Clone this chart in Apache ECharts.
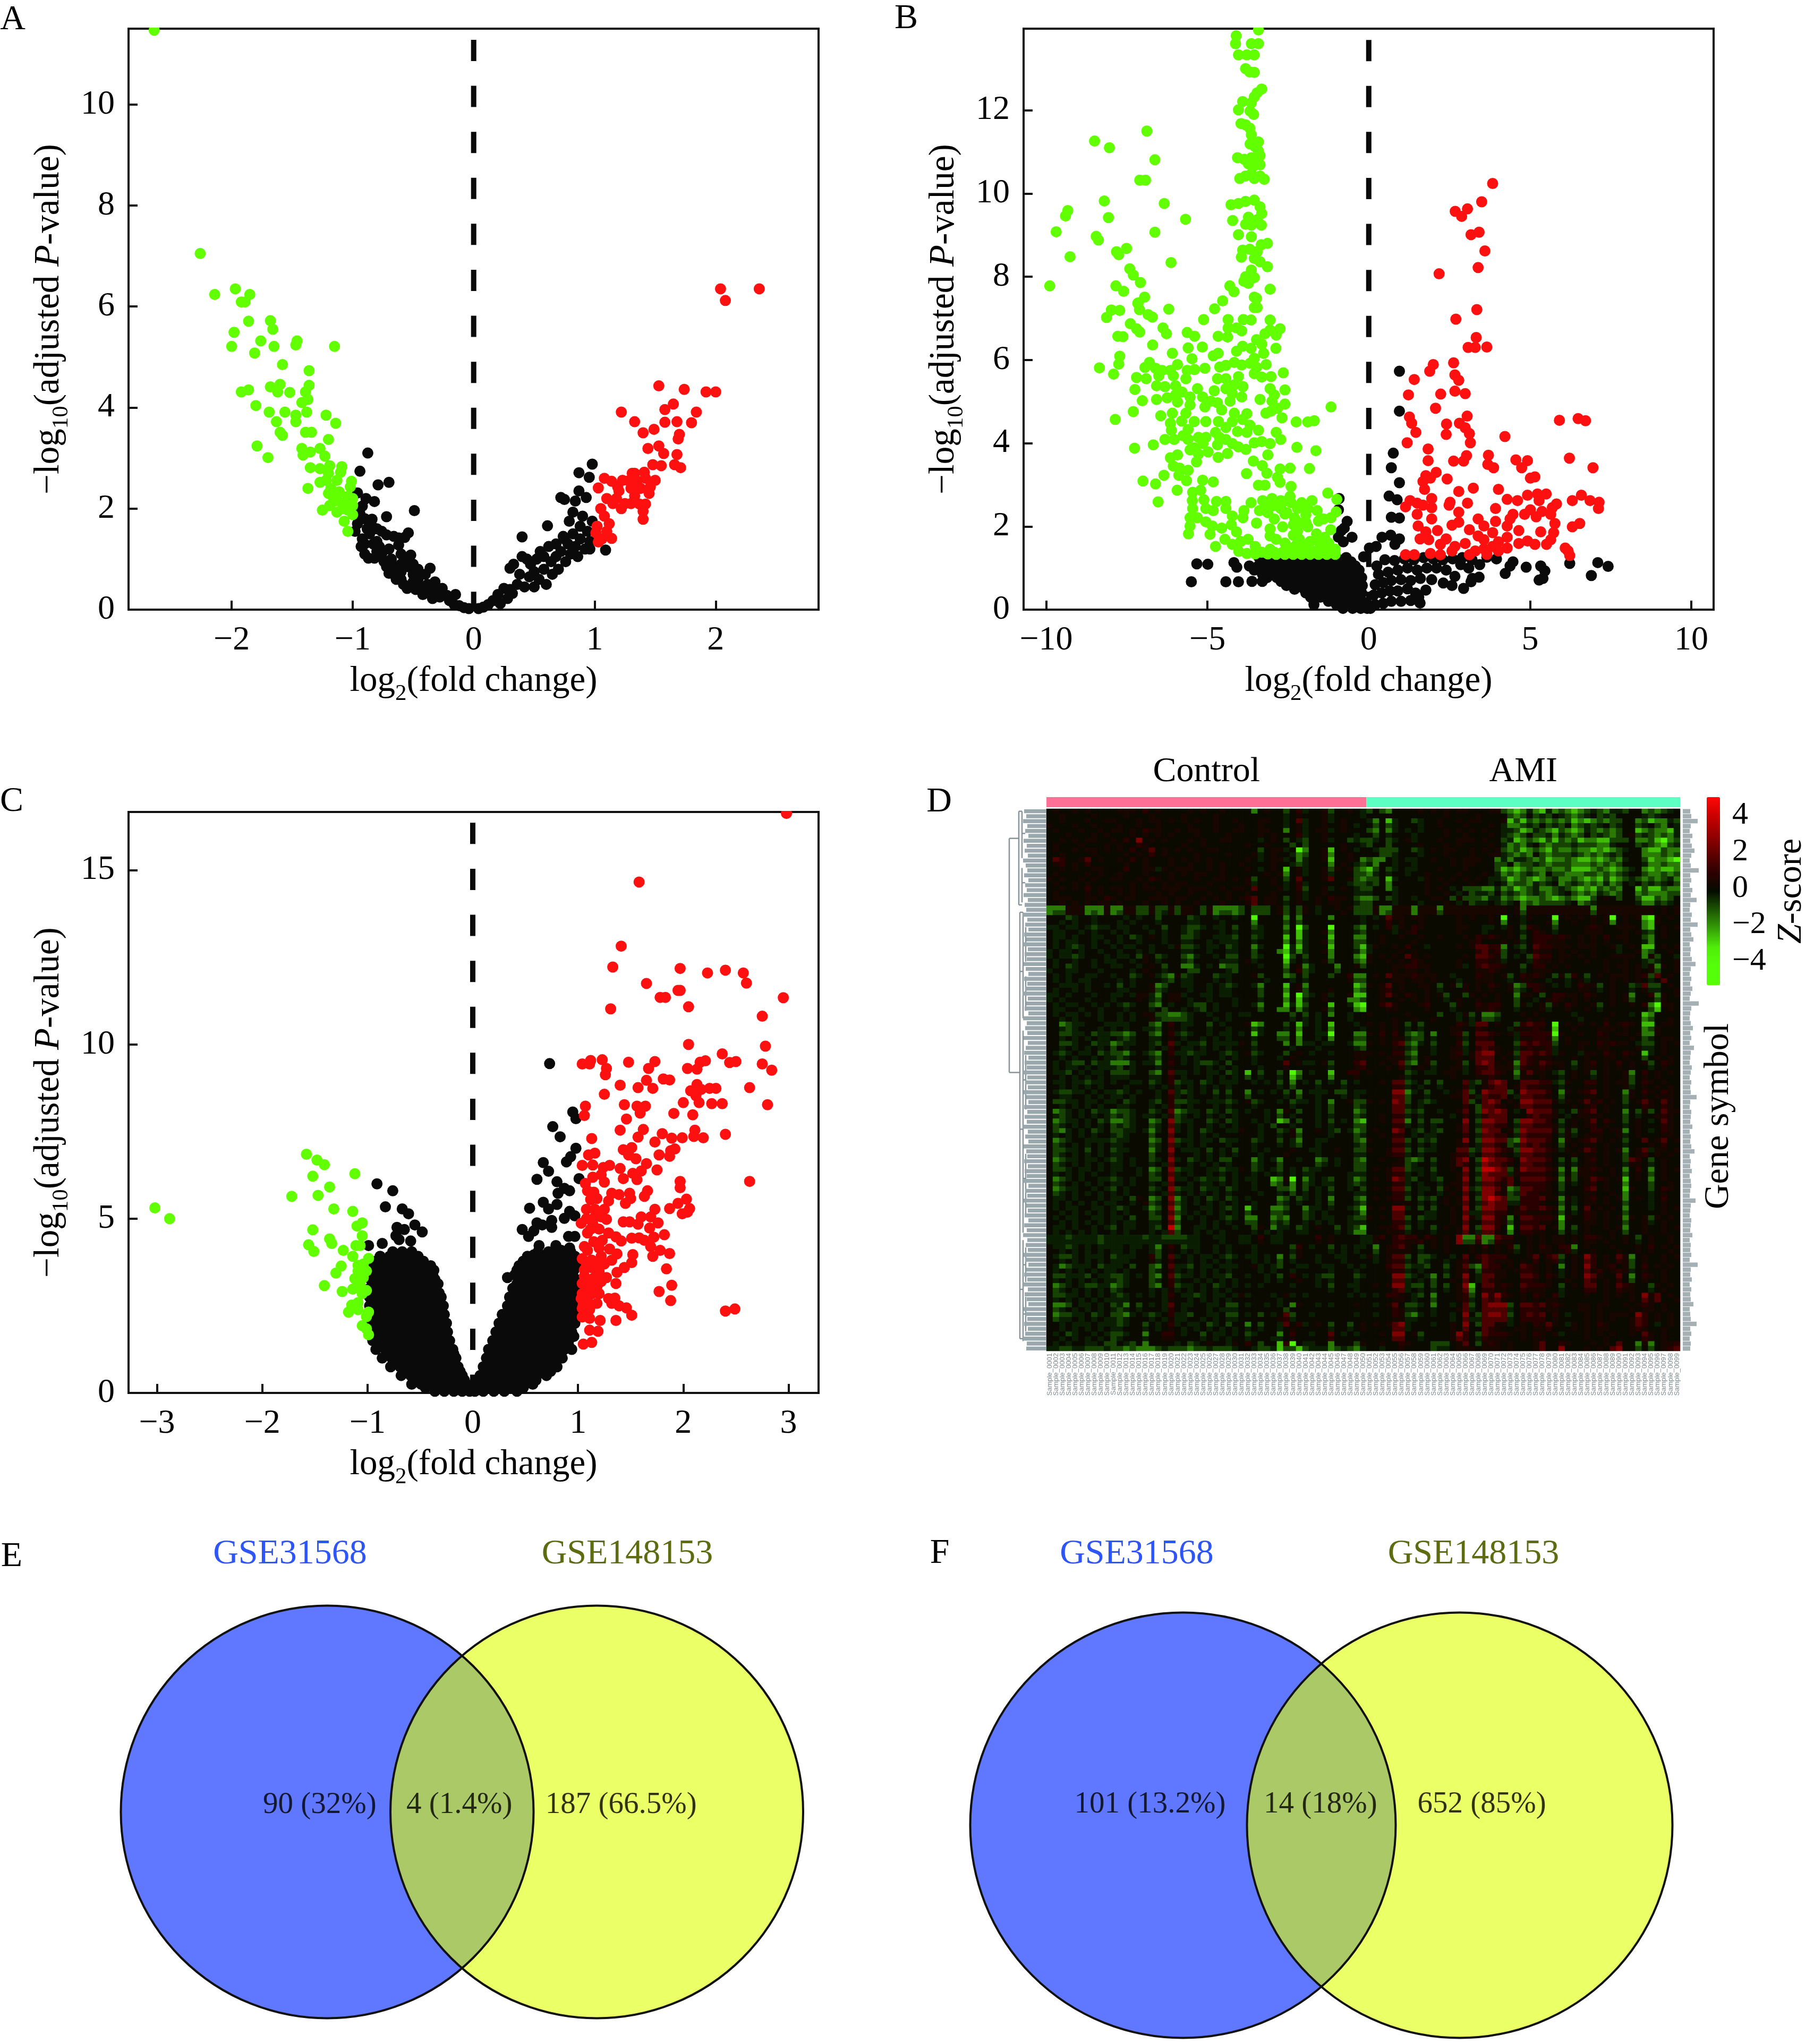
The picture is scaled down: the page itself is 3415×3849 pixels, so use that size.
<!DOCTYPE html>
<html>
<head>
<meta charset="utf-8">
<style>
  html, body { margin: 0; background: #fff; }
  #main { width: 3415px; height: 3849px; }
</style>
<script src="https://cdn.jsdelivr.net/npm/echarts@6/dist/echarts.min.js"></script>
</head>
<body>
<div id="main"></div>
<script>
const aGreen = [-2.64,11.47,-2.26,7.05,-2.14,6.24,-1.97,6.35,-1.85,6.24,-1.92,6.09,-1.89,6.09,-1.86,5.71,-1.98,5.49,-2,5.21,-1.68,5.72,-1.66,5.55,-1.76,5.32,-1.81,5.08,-1.65,5.21,-1.46,5.32,-1.47,5.24,-1.15,5.21,-1.58,4.85,-1.36,4.73,-1.68,4.41,-1.6,4.46,-1.62,4.31,-1.52,4.3,-1.86,4.35,-1.92,4.31,-1.36,4.44,-1.39,4.31,-1.37,4.16,-1.42,4.1,-1.8,4.04,-1.69,3.91,-1.56,3.91,-1.47,3.85,-1.38,3.91,-1.22,3.85,-1.63,3.72,-1.47,3.72,-1.14,3.69,-1.6,3.51,-1.58,3.45,-1.39,3.51,-1.34,3.51,-1.2,3.37,-1.79,3.24,-1.42,3.19,-1.27,3.19,-1.35,3.12,-1.41,3.06,-1.23,3.04,-1.7,3.01,-1.35,2.81,-1.27,2.79,-1.19,2.85,-1.09,2.83,-1.1,2.72,-1.2,2.7,-1.27,2.52,-1.22,2.56,-1.13,2.56,-1.01,2.54,-1.02,2.43,-1.37,2.4,-1.18,2.4,-1.11,2.33,-1.04,2.24,-1.16,2.22,-1,2.2,-1.09,2.11,-1,2.06,-1.19,2.06,-1.25,1.97,-1.04,1.97,-1,1.88,-1.13,1.93,-1.07,1.75,-1.04,1.55,-1.15,2.15,-1.08,2,-1.12,2.3,-1.2,2.3,-1.06,2.1];
const aBlack = [-0.94,2.74,-0.875,3.1,-0.79,2.47,-0.7,2.52,-0.96,2.31,-0.89,2.2,-0.82,2.14,-0.49,1.96,-0.72,1.84,-0.84,1.79,-0.98,1.55,-0.96,1.7,-0.94,1.9,-0.92,2.05,-0.9,1.8,-0.88,1.6,-0.92,1.4,-0.93,1.25,-0.9,1.1,-0.9,1.3,-0.86,1.5,-0.84,1.65,-0.83,1.3,-0.87,1.02,-0.8,1.6,-0.8,1.35,-0.8,1.15,-0.82,1.02,-0.76,1.55,-0.72,1.48,-0.66,1.45,-0.62,1.42,-0.57,1.43,-0.54,1.52,-0.78,1.25,-0.76,1.1,-0.74,0.95,-0.72,0.85,-0.7,1.2,-0.68,1,-0.66,0.85,-0.66,0.7,-0.62,1.28,-0.6,1.1,-0.6,0.9,-0.6,0.75,-0.6,0.6,-0.56,1,-0.54,0.85,-0.52,1.08,-0.5,0.9,-0.5,0.7,-0.5,0.55,-0.46,0.8,-0.46,0.6,-0.44,0.45,-0.4,0.7,-0.36,0.82,-0.38,0.5,-0.36,0.35,-0.32,0.55,-0.3,0.4,-0.28,0.25,-0.26,0.42,-0.22,0.28,-0.2,0.18,-0.15,0.3,-0.16,0.1,-0.12,0.08,-0.08,0.04,-0.04,0.02,-0.58,0.5,-0.7,0.72,-0.64,0.6,-0.55,0.42,-0.48,0.4,-0.42,0.3,-0.34,0.22,0.98,2.88,0.87,2.71,0.955,2.62,0.72,2.22,0.75,2.18,0.87,2.35,0.93,2.22,0.84,2.15,0.82,1.93,0.79,1.75,0.61,1.66,0.4,1.44,1.09,1.18,0.12,0.1,0.16,0.18,0.2,0.3,0.22,0.12,0.25,0.42,0.28,0.22,0.3,0.4,0.3,0.82,0.33,0.9,0.32,0.32,0.36,0.5,0.38,0.7,0.4,1.05,0.42,0.45,0.44,1,0.46,0.65,0.47,0.9,0.5,0.45,0.5,0.75,0.52,1,0.54,0.6,0.55,1.15,0.58,0.8,0.58,1.05,0.6,0.5,0.62,1.25,0.64,0.95,0.65,0.7,0.68,1.3,0.68,1.05,0.7,0.8,0.72,1.15,0.74,1.45,0.76,0.95,0.78,1.3,0.8,1.1,0.82,1.5,0.84,1.25,0.86,1.05,0.88,1.65,0.88,1.4,0.92,1.2,0.94,1.55,0.96,1.35,0.98,1.75,0.75,1.4,0.9,1.85,0.96,1.2,0.04,0.02,0.08,0.05];
const aRed = [2.04,6.35,2.36,6.35,2.08,6.12,1.53,4.43,1.74,4.36,1.92,4.31,2,4.31,1.58,3.96,1.65,4.07,1.22,3.91,1.84,3.91,1.33,3.72,1.58,3.71,1.68,3.72,1.8,3.7,1.49,3.57,1.4,3.5,1.7,3.47,1.69,3.38,1.53,3.24,1.44,3.19,1.57,3.09,1.68,3.07,1.48,2.87,1.55,2.85,1.66,2.87,1.71,2.81,1.31,2.7,1.41,2.72,1.08,2.6,1.14,2.54,1.23,2.56,1.19,2.43,1.03,2.41,1.5,2.56,1.46,2.43,1.4,1.79,1.4,1.95,1.42,2.09,1.37,2.09,1.14,1.41,1.03,1.34,1.01,1.52,1.2,2.35,1.25,2.1,1.3,2.4,1.33,2.25,1.35,2.55,1.38,2.4,1.42,2.6,1.45,2.3,1.28,2.55,1.1,2.2,1.15,2.1,1.05,2,1.08,1.85,1.12,1.7,1.18,2.2,1.22,2,1.02,1.65,1.1,1.55,1.06,1.4,1.3,2.1,1.33,2.7];
const bGreen = [-8.5,11.26,-8.04,11.1,-6.88,11.5,-6.63,10.81,-7.1,10.32,-6.92,10.32,-8.2,9.82,-6.34,9.76,-8.07,9.42,-9.33,9.59,-9.4,9.46,-9.69,9.08,-9.26,8.48,-8.45,8.97,-8.38,8.88,-6.63,9.07,-5.68,9.38,-7.51,8.68,-7.82,8.6,-7.75,8.53,-6.13,8.34,-7.41,8.19,-7.3,8.04,-7.08,7.86,-9.89,7.78,-7.84,7.78,-7.6,7.65,-6.95,7.51,-7.15,7.37,
-4.11,13.79,-3.42,13.93,-4.13,13.6,-3.64,13.6,-3.42,13.6,-4.04,13.33,-3.78,13.33,-3.55,13.33,-3.82,13,-3.69,12.92,-3.55,12.91,-3.32,12.51,-3.46,12.42,-3.55,12.32,-3.64,12.18,-3.91,12.21,-4.04,12.01,-3.68,11.98,-3.57,11.9,-3.96,11.68,-3.82,11.65,-3.69,11.57,-3.64,11.41,-3.42,11.24,-3.68,11.19,-3.53,11.13,-3.42,11.02,-3.37,10.91,-4.07,10.86,-3.86,10.82,-3.64,10.86,-3.46,10.8,-3.73,10.71,-3.55,10.67,-3.37,10.69,-3.64,10.47,-4,10.36,-3.55,10.36,-3.24,10.34,-3.37,10.42,-3.82,10.42,-4.27,9.73,-4.04,9.76,-3.82,9.81,-3.55,9.84,-3.37,9.68,-3.32,9.52,-3.73,9.43,-3.46,9.37,-4.22,9.35,-3.82,9.26,-3.64,9.24,-3.33,9.24,-4.04,9.01,-3.64,8.96,-3.14,8.8,-3.33,8.77,-3.91,8.64,-3.69,8.66,-3.46,8.6,-3.95,8.47,-3.55,8.44,-3.37,8.36,-3.14,8.24,-3.64,8.16,-3.82,8,-3.55,7.98,-4.31,7.78,-3.87,7.89,-3.73,7.84,-4.18,7.64,-3.06,7.7,-3.55,7.51,-3.46,7.26,
-8.13,7.02,-7.98,7.2,-7.72,7.19,-7.39,6.87,-7.2,6.75,-7.1,6.67,-7.78,6.57,-7.62,6.56,-7.16,7.36,-7.11,7.21,-6.84,7.09,-6.71,7.03,-6.2,7.22,-6.38,6.77,-6.27,6.63,-6.7,6.36,-7.72,6.09,-7.75,5.9,-8.35,5.81,-7.91,5.66,-5.63,6.66,-5.4,6.57,-5.12,6.97,-4.78,7.23,-4.53,7.42,-5.6,6.29,-6.09,6.16,-5.16,6.31,-5.48,6.03,-4.82,6.1,-4.67,6.16,-4.36,6.97,-3.89,6.97,-3.65,6.96,-3.06,6.96,-3.55,7.26,-3.48,7.48,-4.36,6.77,-4.1,6.77,-3.94,6.7,-4.67,6.57,-4.38,6.55,-2.75,6.75,-3.06,6.72,-3.22,6.63,-2.87,6.6,-3.48,6.49,-3.32,6.38,-3.65,6.28,-3.91,6.33,-4.1,6.21,-3.26,6.16,-2.88,6.28,-3.18,5.89,-3.55,6.04,-3.68,5.92,-3.48,5.82,-3.94,5.88,-4.17,5.94,-4.43,5.87,-4.62,5.83,-3.55,5.67,-3.32,5.59,-3.03,5.6,-2.65,5.69,-2.6,5.28,-3.06,5.31,-2.93,5.16,-3.37,5.05,-3,5.01,-2.6,4.94,-3.03,4.77,-3.19,4.72,-2.83,4.84,-2.69,4.61,-2.25,4.51,-1.89,4.51,-1.69,4.54,-1.17,4.87,
-5.08,5.8,-5.4,5.77,-5.63,5.75,-5.93,5.89,-6.15,5.75,-6.41,5.75,-6.61,5.8,-6.8,5.94,-6.94,5.82,-6.9,5.55,-7.2,5.58,-6.51,5.62,-6.06,5.62,-5.67,5.55,-7.25,5.29,-7.02,5.02,-6.58,5.38,-6.32,5.36,-5.99,5.38,-5.79,5.23,-5.99,5.16,-6.58,5.05,-6.25,5.09,-5.93,4.99,-7.3,4.76,-7.86,4.57,-6.45,4.66,-6.09,4.72,-6.15,4.48,-6.12,4.31,-5.8,4.53,-5.67,4.72,-5.54,4.92,-5.54,5.11,-5.31,5.31,-5.15,5.11,-5.08,4.87,-4.79,5.26,-4.69,5.55,-4.43,5.55,-4.04,5.6,-3.9,5.36,-4.17,5.4,-4.43,5.31,-4.23,5.19,-3.94,5.11,-4.3,5.01,-4.69,4.97,-4.9,5.01,-4.56,4.8,-4.17,4.72,-3.78,4.71,-3.91,4.57,-4.23,4.52,-4.66,4.52,-5.05,4.52,-5.41,4.52,-4.43,4.38,-3.68,4.43,-3.42,4.31,-4.07,4.28,-3.78,4.26,-4.75,4.26,-2.87,4.26,-2.73,4.09,-5.6,4.33,-5.76,4.18,-5.6,4.09,-5.28,4.14,-5.05,4.14,-4.63,4.14,-4.43,4.09,-4.23,3.99,-4.04,3.91,-3.81,3.85,-3.55,4.01,-3.32,4.04,-3.06,3.99,-4.69,3.96,-6.03,4.09,-6.32,4.09,-6.68,3.96,-7.26,3.88,-5.4,3.89,-5.14,3.99,-4.98,3.79,-5.28,3.74,-5.54,3.84,-2.23,3.9,-1.64,3.82,-3.13,3.72,-4.38,3.75,-4.67,3.66,-3.58,3.57,-3.3,3.46,-3.16,3.28,-2.75,3.38,-2.44,3.4,-1.84,3.39,-3.79,3.27,-2.83,3.18,-2.75,3.06,-3.42,2.99,-3.22,2.99,
-6.15,3.65,-5.93,3.72,-6.06,3.45,-5.86,3.4,-5.6,3.35,-5.34,3.55,-5.89,3.23,-6.35,3.23,-7,3.09,-6.61,3.02,-5.65,3.1,-5.94,2.87,-5.15,3.11,-4.82,3.07,-6.53,2.59,-5.46,2.82,-5.21,2.87,-5.47,2.62,-5.11,2.64,-4.72,2.6,-4.43,2.6,-4.43,2.43,-5.46,2.43,-4.82,2.38,-5.05,2.43,-5.54,2.21,-5.31,2.21,-5.54,2.01,-5.59,1.82,-5.05,2.11,-4.85,2.01,-4.92,1.81,-4.75,1.52,-4.56,1.96,-4.23,2.25,-4.26,2.04,-4.1,1.87,-4.46,1.69,-4.23,1.57,-3.97,1.64,-3.74,1.69,-4.03,1.4,-3.78,1.35,-3.52,1.52,-3.32,1.38,-3.06,1.45,-3.87,2.38,-3.65,2.57,-3.9,2.21,-3.48,2.08,-3.29,2.62,-3.39,2.38,-3,2.67,-3.13,2.33,-2.93,2.18,-3.06,1.94,-3.06,1.77,-2.73,2.62,-2.73,2.43,-2.41,2.96,-2.44,2.72,-2.41,2.57,-2.08,2.57,-1.76,2.62,-2.21,2.43,-2.54,2.33,-1.89,2.43,-1.6,2.38,-1.4,2.18,-1.27,2.8,-0.99,2.65,-1.01,2.35,-1.17,2.21,-1.56,2.13,-1.95,2.28,-2.67,1.99,-2.34,2.04,-2.12,2.08,-1.89,1.99,-1.18,1.92,-1.62,1.82,-2.21,1.89,-2.87,1.69,-2.6,1.6,-2.15,1.69,-2.34,1.79,-1.82,1.64,-1.37,1.74,-1.56,1.64,-1.24,1.6,-1.04,1.45,-1.37,1.47,-1.69,1.4,-2.02,1.45,-2.34,1.4,-2.67,1.38,-2.93,1.38,-1.04,1.33,-1.3,1.33,-1.56,1.33,-1.82,1.33,-2.08,1.33,-2.34,1.33,-2.6,1.33,-2.87,1.33,-3.13,1.34,-3.52,1.34,-2.6,2.3,-2.95,2.5,-2.3,2.2,-1.95,2.1,-2.65,2.6,-3.2,2.55,-2.25,1.55,-2.5,1.5,-1.95,1.55,-1.45,1.55];
const bRed = [3.84,10.24,3.5,9.8,2.68,9.57,3.06,9.63,2.88,9.45,3.42,9.07,3.17,9.01,3.6,8.62,3.39,8.22,2.18,8.07,3.35,7.21,2.7,6.98,3.33,6.54,3.08,6.3,3.3,6.3,3.66,6.31,2.63,5.93,2,5.89,1.89,5.73,1.41,5.53,2.67,5.64,2.79,5.51,2.67,5.25,2.99,5.19,1.23,5.16,2.23,5.18,2.07,4.84,1.26,4.63,1.33,4.48,3.05,4.65,2.81,4.48,2.41,4.46,2.99,4.37,1.46,4.26,2.4,4.21,3.12,4.23,4.22,4.16,1.19,4.01,3.15,4.01,1.84,3.86,5.91,4.55,6.49,4.59,6.72,4.54,6.22,3.64,6.95,3.41,1.84,3.58,2.63,3.57,2.94,3.57,3.03,3.7,3.71,3.71,4.56,3.6,4.92,3.58,3.69,3.49,3.87,3.41,4.74,3.41,2.09,3.3,1.77,3.22,1.91,3.16,2.43,3.14,1.68,3.08,5.15,3.19,5.01,3.16,1.73,2.89,3.24,2.92,4.02,2.89,2.79,2.84,6.59,2.75,4.92,2.75,5.23,2.78,5.5,2.78,1.95,2.67,1.28,2.62,1.5,2.56,4.29,2.65,4.61,2.62,5.28,2.62,6.31,2.62,6.86,2.62,7.14,2.58,5.82,2.54,2.52,2.58,3.06,2.56,1.68,2.51,1.14,2.47,2.49,2.51,7.12,2.43,3.93,2.43,5.69,2.45,1.95,2.45,2.79,2.34,1.5,2.29,5.01,2.4,5.37,2.36,4.47,2.29,4.83,2.29,5.19,2.23,5.64,2.29,1.95,2.18,3.39,2.18,3.93,2.12,4.38,2.18,5.77,2.07,2.79,2.1,6.54,2.07,6.31,1.99,2.58,2.03,1.53,2.01,2.13,1.9,3.12,1.92,3.57,2.01,4.29,2.01,4.65,1.9,5.33,1.87,5.73,1.85,1.77,1.87,3.84,1.85,1.59,1.7,2.4,1.7,3.39,1.77,4.29,1.74,4.92,1.65,5.64,1.68,5.51,1.57,1.86,1.68,3.57,1.68,4.02,1.63,4.65,1.59,5.15,1.57,2.22,1.57,2.99,1.59,3.84,1.52,2.67,1.52,4.29,1.48,6.09,1.48,6.18,1.41,6.23,1.3,1.14,1.32,1.41,1.32,1.91,1.35,2.22,1.32,2.58,1.41,3.12,1.32,3.3,1.41,3.57,1.46,4.02,1.41,3.66,1.33];
const bBlack = [0.95,5.73,0.95,4.77,0.76,3.76,0.7,3.41,0.95,3.05,0.63,2.73,0.88,2.64,0.7,2.22,0.95,2.2,0.41,1.74,0.68,1.79,0.95,1.7,0.81,1.57,0.23,1.52,0.02,1.48,-0.16,1.27,-0.92,2.67,-0.94,2.4,-0.67,2.12,-0.76,1.96,-0.94,1.74,-0.52,1.74,-0.79,1.63,-0.85,1.9,-5.33,1.1,-4.99,1.09,-5.5,0.67,-4.43,0.67,-4.18,1.13,-4.04,0.67,-4.09,1.02,6.23,1.11,7.1,1.13,7.42,1.04,6.9,0.82,5.46,0.93,5.33,1.05,5.28,0.71,5.4,0.75,4.88,1.02,4.47,1.15,4.38,1.05,4.23,0.87,3.96,1.22,3.66,1.26,3.44,1.08,3.42,0.78,3.21,0.75,3.17,0.67,2.94,0.51,2.67,0.8,2.85,1.08,2.31,0.64,2.58,0.58,1.77,0.47,1.59,0.16,
0.25,1.05,0.5,1.2,0.8,1.18,1.1,1.22,1.4,1.2,1.7,1.25,2,1.22,2.3,1.2,2.6,1.22,2.9,1.25,3.2,1.2,0.3,0.85,0.6,0.9,0.9,0.95,1.2,1,1.5,0.95,1.8,1,2.1,1,2.4,0.95,3.1,1,0.2,0.6,0.45,0.65,0.7,0.7,1,0.72,1.3,0.7,1.6,0.75,1.95,0.72,0.15,0.35,0.4,0.4,0.65,0.45,0.9,0.45,1.2,0.5,1.45,0.4,0.2,0.12,0.45,0.15,0.7,0.2,1,0.2,1.3,0.22,1.55,0.3];
// dense black mass of panel B, one list per level: y then the x's read along it
const bBlackRows = [
  [1.25,-3.4,-3.1,-2.8,-2.5,-2.2,-1.9,-1.6,-1.3,-1,-0.7],
  [1.15,-3.25,-2.95,-2.65,-2.35,-2.05,-1.75,-1.45,-1.15,-0.85,-0.55],
  [1.05,-3.7,-3.42,-3.1,-2.82,-2.5,-2.2,-1.92,-1.6,-1.3,-1,-0.7,-0.42],
  [0.95,-3.55,-3.25,-2.95,-2.65,-2.35,-2.05,-1.75,-1.45,-1.15,-0.85,-0.55,-0.3],
  [0.86,-3.3,-3.02,-2.7,-2.42,-2.1,-1.8,-1.5,-1.2,-0.9,-0.6,-0.32],
  [0.77,-3.15,-2.85,-2.55,-2.25,-1.95,-1.65,-1.35,-1.05,-0.75,-0.45,-0.22],
  [0.68,-3.62,-3.3,-2.72,-2.42,-2.12,-1.8,-1.5,-1.2,-0.9,-0.6,-0.3],
  [0.58,-2.55,-2.25,-1.95,-1.65,-1.35,-1.05,-0.75,-0.45,-0.2],
  [0.49,-2.3,-2,-1.7,-1.4,-1.1,-0.8,-0.5,-0.25],
  [0.4,-1.95,-1.65,-1.35,-1.05,-0.75,-0.48,-0.22],
  [0.3,-1.8,-1.5,-1.2,-0.9,-0.6,-0.35],
  [0.2,-1.25,-1.05,-0.82,-0.6,-0.4,-0.2],
  [0.12,-1.7,-1,-0.75,-0.5,-0.3,-0.15],
  [0.03,-0.8,-0.5,-0.25,-0.05,0.05]
];
const cGreen = [-3.02,5.31,-2.88,5,-1.58,6.85,-1.48,6.68,-1.41,6.55,-1.52,6.22,-1.12,6.29,-1.36,5.91,-1.72,5.64,-1.47,5.67,-1.32,5.28,-1.14,5.21,-1.1,4.79,-1.05,4.88,-1.52,4.68,-1.05,4.51,-1.36,4.42,-1.34,4.29,-1.56,4.25,-1.51,4.06,-1.11,4.23,-1.07,4.23,-1.23,4.09,-1.14,3.92,-0.99,3.86,-1.25,3.64,-1.3,3.44,-1.09,3.66,-1.04,3.7,-1.01,3.5,-1.09,3.5,-1.12,3.28,-1.04,3.31,-1.41,3.08,-1.24,2.91,-1.14,2.98,-1.07,3.11,-1.01,2.94,-1.05,2.85,-1.09,2.59,-1.15,2.52,-1.18,2.32,-1.09,2.39,-0.99,2.32,-1.01,2.19,-1.05,1.93,-1.01,1.84,-0.99,1.67];
const cRed = [2.98,16.63,1.58,14.66,1.41,12.82,1.33,12.22,1.97,12.18,2.23,12.05,2.4,12.13,2.57,12.05,2.6,11.76,1.65,11.75,1.95,11.55,1.97,11.55,1.78,11.35,1.83,11.35,2.95,11.34,1.31,11.02,2.05,11.08,2.75,10.81,2.05,10,2.78,9.95,2.37,9.73,2.5,9.51,2.44,9.48,2.75,9.44,2.84,9.26,2.21,9.53,2.16,9.49,2.04,9.31,2.13,9.29,1.04,9.44,1.11,9.44,1.12,9.54,1.23,9.56,1.27,9.31,1.26,9.13,1.48,9.49,1.73,9.51,1.67,9.31,1.65,8.97,1.81,9.01,1.87,8.98,1.71,8.74,1.57,8.76,1.4,8.83,1.25,8.57,2.13,8.85,2.07,8.67,2.12,8.53,2.17,8.71,2.25,8.74,2.31,8.74,2.63,8.76,2,8.33,2.15,8.33,2.27,8.3,2.37,8.3,2.8,8.27,1.44,8.27,1.56,8.23,1.64,8.23,1.59,8.03,1.07,8.23,1.06,7.96,1.46,7.86,1.91,8.02,2.09,7.98,1.4,7.54,1.62,7.56,1.57,7.34,1.8,7.44,2.11,7.54,2.1,7.36,2.19,7.32,1.99,7.32,1.89,7.31,1.73,7.2,2.4,7.42,1.13,7.3,1.43,6.98,1.51,7.04,1.48,6.83,1.55,6.72,1.92,7,1.88,6.95,1.87,6.79,1.77,6.83,1.1,6.83,1.16,6.88,1.04,6.53,1.14,6.54,1.3,6.53,1.24,6.47,1.4,6.44,1.65,6.58,1.6,6.37,1.52,6.3,1.75,6.4,1.56,6.12,1.43,6.15,1.14,6.19,1.22,6.26,1.25,6.05,1.07,6.01,1.97,6.07,1.97,5.89,2.63,6.07,1.15,5.76,1.18,5.58,1.09,5.8,1.32,5.73,1.39,5.69,1.49,5.73,1.5,5.58,1.45,5.44,1.29,5.51,1.66,5.8,1.63,5.64,2.03,5.56,1.95,5.44,1.87,5.29,2.06,5.29,1.99,5.14,2.04,5.19,1.08,5.27,1.16,5.27,1.25,5.27,1.73,5.27,1.27,4.98,1.6,5.05,1.69,5.05,1.43,4.91,1.49,4.91,1.57,4.84,1.76,4.88,1.68,4.73,1.03,4.87,1.14,4.85,1.2,4.7,1.09,4.59,1.82,4.54,1.72,4.47,1.51,4.44,1.58,4.45,1.63,4.38,1.69,4.2,1.29,4.59,1.36,4.48,1.41,4.36,1.23,4.38,1.15,4.34,1.06,4.2,1.09,4.09,1.2,4.16,1.3,4.13,1.37,3.99,1.52,3.97,1.78,4.09,1.87,4,1.71,3.92,1.04,3.85,1.13,3.81,1.22,3.92,1.32,3.81,1.51,3.74,1.44,3.6,1.37,3.46,1.27,3.31,1.36,3.14,1.13,3.6,1.06,3.53,1.2,3.49,1.84,3.56,1.89,3.09,1.77,2.91,1.88,2.65,1.04,3.14,1.11,3.14,1.04,2.85,1.13,2.85,1.2,2.85,1.03,2.71,1.09,2.64,1.18,2.57,1.29,2.71,1.35,2.72,1.32,2.57,1.39,2.5,1.46,2.44,1.51,2.23,1.04,2.43,1.11,2.39,1.04,2.18,1.11,2.14,1.21,2.08,1.36,2.08,2.4,2.35,2.49,2.41,1.11,1.8,1.19,1.77,1.05,1.4,1.13,1.45,1.15,3.3,1.22,3.2,1.1,3,1.18,3.05,1.06,3.35,1.12,2.5,1.05,2.55,1.25,3.7,1.18,3.75,1.08,3.65,1.12,4.7,1.08,5,1.16,5.05,1.12,5.55,1.22,5.05];
const cBlack = [-0.91,6,-0.76,5.8,-0.83,5.34,-0.67,5.28,-0.61,5.14,-0.55,4.82,-0.48,4.62,-0.72,4.75,-0.65,4.69,-0.73,4.51,-0.59,4.36,-0.86,4.29,-0.99,4.23,-0.7,4.4,0.73,9.45,0.95,8.06,0.98,7.87,0.76,7.64,0.83,7.35,0.98,7.02,0.93,6.78,0.89,6.63,0.67,6.61,0.72,6.36,0.61,6.13,0.8,6.06,1.01,6.15,0.87,5.87,0.81,5.73,0.92,5.8,0.67,5.47,0.8,5.41,0.54,5.3,0.72,5.28,0.92,5.21,0.97,5.08,0.87,5.01,0.75,4.95,0.61,4.88,0.66,4.82,0.47,4.69,0.58,4.65,0.53,4.49,0.75,4.75,0.63,4.23,0.79,4.23,0.91,4.49,0.97,4.49,0.58,3.96,0.71,3.96,0.84,4.09,0.92,4.16,0.45,3.64,0.53,3.77,0.33,3.31];
const cBlackRows = [
  [4.05,-0.76,-0.67,-0.58,0.62,0.72,0.82,0.93],
  [3.92,-0.88,-0.79,-0.7,-0.61,-0.52,0.52,0.61,0.7,0.79,0.88,0.97],
  [3.78,-0.92,-0.83,-0.74,-0.65,-0.56,-0.47,0.48,0.57,0.66,0.75,0.84,0.93],
  [3.65,-0.94,-0.85,-0.76,-0.67,-0.58,-0.49,-0.4,0.44,0.53,0.62,0.71,0.8,0.89,0.98],
  [3.52,-0.96,-0.87,-0.78,-0.69,-0.6,-0.51,-0.42,-0.37,0.42,0.51,0.6,0.69,0.78,0.87,0.96],
  [3.39,-0.92,-0.83,-0.74,-0.65,-0.56,-0.47,-0.38,0.4,0.49,0.58,0.67,0.76,0.85,0.94],
  [3.26,-0.97,-0.88,-0.79,-0.7,-0.61,-0.52,-0.43,-0.36,0.45,0.54,0.63,0.72,0.81,0.9,0.98],
  [3.13,-0.93,-0.84,-0.75,-0.66,-0.57,-0.48,-0.39,-0.33,0.42,0.51,0.6,0.69,0.78,0.87,0.96],
  [3,-0.98,-0.89,-0.8,-0.71,-0.62,-0.53,-0.44,-0.35,0.38,0.47,0.56,0.65,0.74,0.83,0.92,0.99],
  [2.87,-0.94,-0.85,-0.76,-0.67,-0.58,-0.49,-0.4,-0.32,0.41,0.5,0.59,0.68,0.77,0.86,0.95],
  [2.75,-0.98,-0.89,-0.8,-0.71,-0.62,-0.53,-0.44,-0.36,-0.3,0.35,0.44,0.53,0.62,0.71,0.8,0.89,0.98],
  [2.62,-0.94,-0.85,-0.76,-0.67,-0.58,-0.49,-0.4,-0.31,0.39,0.48,0.57,0.66,0.75,0.84,0.93],
  [2.5,-0.98,-0.89,-0.8,-0.71,-0.62,-0.53,-0.44,-0.35,-0.28,0.33,0.42,0.51,0.6,0.69,0.78,0.87,0.96],
  [2.37,-0.94,-0.85,-0.76,-0.67,-0.58,-0.49,-0.39,-0.3,0.37,0.46,0.55,0.64,0.73,0.82,0.91],
  [2.25,-0.97,-0.88,-0.79,-0.7,-0.61,-0.52,-0.43,-0.34,-0.27,0.28,0.37,0.46,0.55,0.64,0.73,0.82,0.91,0.98],
  [2.12,-0.93,-0.84,-0.75,-0.66,-0.57,-0.48,-0.38,-0.29,0.3,0.39,0.48,0.57,0.66,0.75,0.84,0.93],
  [2,-0.97,-0.88,-0.79,-0.7,-0.61,-0.52,-0.43,-0.34,-0.25,0.25,0.34,0.43,0.52,0.61,0.7,0.79,0.88,0.97],
  [1.87,-0.92,-0.83,-0.74,-0.65,-0.56,-0.47,-0.38,-0.28,0.27,0.36,0.45,0.54,0.63,0.72,0.81,0.9],
  [1.75,-0.96,-0.87,-0.78,-0.69,-0.6,-0.51,-0.42,-0.33,-0.24,0.22,0.31,0.4,0.49,0.58,0.67,0.76,0.85,0.94],
  [1.62,-0.91,-0.82,-0.73,-0.64,-0.55,-0.46,-0.37,-0.27,0.24,0.33,0.42,0.51,0.6,0.69,0.78,0.87,0.96],
  [1.5,-0.95,-0.86,-0.77,-0.68,-0.59,-0.5,-0.41,-0.32,-0.22,0.19,0.28,0.37,0.46,0.55,0.64,0.73,0.82,0.91],
  [1.37,-0.89,-0.8,-0.71,-0.62,-0.53,-0.44,-0.35,-0.25,0.2,0.29,0.38,0.47,0.56,0.65,0.74,0.83,0.91],
  [1.25,-0.92,-0.83,-0.74,-0.65,-0.56,-0.47,-0.38,-0.29,-0.19,0.15,0.24,0.33,0.42,0.51,0.6,0.69,0.78,0.87,0.94],
  [1.12,-0.82,-0.73,-0.64,-0.55,-0.46,-0.37,-0.27,-0.18,0.18,0.27,0.36,0.45,0.54,0.63,0.72,0.81],
  [1,-0.86,-0.77,-0.68,-0.59,-0.5,-0.41,-0.32,-0.23,-0.16,0.13,0.22,0.31,0.4,0.49,0.58,0.67,0.76,0.85],
  [0.87,-0.74,-0.65,-0.56,-0.47,-0.38,-0.29,-0.2,0.15,0.24,0.33,0.42,0.51,0.6,0.69,0.78],
  [0.75,-0.78,-0.69,-0.6,-0.51,-0.42,-0.33,-0.24,-0.14,0.1,0.19,0.28,0.37,0.46,0.55,0.64,0.73,0.8],
  [0.62,-0.64,-0.55,-0.46,-0.37,-0.28,-0.19,-0.12,0.12,0.2,0.29,0.38,0.47,0.56,0.65,0.74],
  [0.5,-0.68,-0.59,-0.5,-0.41,-0.32,-0.23,-0.1,0.07,0.16,0.25,0.34,0.43,0.52,0.61,0.7],
  [0.37,-0.53,-0.44,-0.35,-0.26,-0.17,-0.08,0.07,0.16,0.25,0.34,0.43,0.52,0.6],
  [0.25,-0.58,-0.49,-0.4,-0.31,-0.22,-0.13,-0.06,0.04,0.12,0.21,0.3,0.39,0.48,0.57],
  [0.15,-0.45,-0.35,-0.22,-0.14,-0.06,0.06,0.15,0.25,0.36,0.48],
  [0.05,-0.36,-0.27,-0.18,-0.1,-0.03,0.02,0.1,0.2,0.3,0.42]
];

// heatmap: one string per band of genes, one letter per sample, see zCodes
const zCodes = { a: -3.7, b: -2.6, c: -1.7, d: -0.9, e: -0.4, f: 0, g: 0.35, h: 0.8, i: 1.5, j: 2.5, k: 3.8 };
const heatRows = [
  "fgffgfgfff fgggfhfgff ffgfgffgff ffcfgffdfh effgdffgfe dfdcffffgf gfgfggfffg gdcbcecbec dcbcdedcee dffcdcdef",
  "ffgffffgff ffgfffgfff fgffffgfff fffffffefg fffgeffffe ffffffffff ffgffffgff ffdcdfdedf edcdefdedf fffedefff",
  "ffgfffgffg gfffgfggfg fgfgffgffg fffggffefi effgefgfff ecfbeffdef fgffgfggff fgbdbdcdcd cdbcbcdcdd ffcdbcced",
  "gfffgffgff fgffgffgff ffgfffgfff gffgfffefg effgffgfef fdfdefffef fgfffgfffg feccdedfde dfcdedefde ffdefdcfe",
  "fgfffgffgf ggfgfhggff gfggffgffg gffggffcfg efggefgfff dcfcefefef ffgfgfgfgf feedbcedcb dcbcedcdcd ffbcdccbe",
  "fffgfffgfg fffgfgfgfg fffgffffgf fffgfgfffh effgffffef fdfefffeff ffgffgfffg fedcdfddec edcdfdedcd fgdedcdce",
  "ffgfgfggff gfhfjfgfgf ffgfgffggf fffefgfdfe dffgeffded defdefgeff fgffgggfgf fdebcdcbdb dcdbccbbdd dfccdbacd",
  "fgfffgfffg fgffhgffff fgffgfffff fgffgfffdf dfffffgffe dffdffffgf ffgfgffffg fecdcefdcd ddedddccef ffdedcbde",
  "fgffgfggfg fgfhfgifgf gfgffggfff fffdfggefa cffgbfgfef fedddffdef gfggffgfgf gdcdbcdcbd ccdccbcbcd effcbbdcc",
  "ffgffffgff ffgfgfhfgf fffgffffgf ffgefgffec dffgcffgff ffddefffef ffgfffgffg gedcdcfdcd ddedcdcded fffcccdcd",
  "fihffgifgf fgfhfgfffg fgfgfgffff fgfefggefc effgbffgfc dccfefeeff gffgfgggff ceceedcdbc cdcbbcbcdc effdbccba",
  "fghfgfhfff ffgffgfffg ffgffgfgff gffffgffed efffcfgfed ecffeffeff fffgfggfff ddfcddedcd ddcccdcdcd fffeccdcc",
  "ffgfgffggf ffhffggegf gggffgfgff fgfefgfbfg effgdgfgdc bdfdefeeff fgfffgffff dbcbcdccdc cdbbbcdcbc defcbcbbc",
  "fgffffgfgf fgfffgfffg fgfggffgff ffffgfgcfg effgefffdd cefeffeffg ffffgfffgf ecdcdedcfd dcccddcdcd effdccdcd",
  "gfgffgfgff ggffgfhgfg fffgffggfg fgdffgfdfi fffgiffgdc ddfbefffeg fgfgfgfgfe edbcdcbcde ccdcbcbdbc dedcdcdec",
  "fgffgfgfff fffgfgffgf ggfffgffff fgeffgfefh effffffedd edfcfffffg ffgfffgffe fecddcedef cdedcdcecd fefdedefd",
  "ffgfgfhfgf ggfgfggfgg gfgggffgfg gfifffgefh dffgefgfed dffceffffg fgfefdddcc ecdbcdeccd edcbcbdcdc ffbdbbdcc",
  "fgffffgfgf fgfgfffgfg ffgffgffgf fgfffgfffg effgffffee efffeffffg ffgfefdeed fdedcdedcd efdcdcedcd ffcdcccdd",
  "fgggffggfh gfggffgggf ggffgfgfgf ghifggfdfg efgfhggfdc cdfdeffeff ggfdgdddce ecdcbccdcb cdcbbdfgfd ffdbbdcdf",
  "ffgfgfgfgg fgfffgffgf gffgfffgff fgifggfefg ffgfggffed dfffefffef ffgfefdeef edefcdcddd defcdeffff ffeccedef",
  "cccgggcccg ccggddgddg dggfdgcccc dfdddfgdfd gfeffgfgdd dgccgggcgg gcgggggggg ggfgcggggg gggggcgggg gggggfgfg",
  "cddgggcdcg cdggddgdeg dggfdgcddc dfdddfgdfd gfefffgfdd dgcdgggcgg gdgggggggg ggfgdggggg gggggdgggg gggggfgfg",
  "fffdeffeff ffefeffdff ffdeffeffe ffaffffcfc ffffcffffe fefiggfggf ffffgfgffg faffegfffa fgfgfgfgaf gfgbagfgf",
  "ffefeffeff fefefffeff ffeefffeff ffcffffdfd fffffffffe fffhfgffgf ffffgffffg fcffefffgc ffgffgfgcf gffcbgfff",
  "eefeefedee feeffeffdf feddefeefd ffdefffcfa dfffafffdc fefhegfhgf ffffggffee fegfdhgffd ffffghgffg ggfcbfgfg",
  "feeffefeff efefffefef fedefffefe ffeefffdfb effgcfffed ffffefghff ffffgfffef ffgfefhgfe ffffgggfff gfgedfgff",
  "feefeffeef fefdefgfef fddeffeeed ffdefffbfb efffbfffcc ffgffgffgf fgfffgfhgh gfgfdfhhhg hgfgfgfhfg gffdcfgff",
  "fefeeffefe feffefffef feeffefeee ffeffffcfc effgcfffdd ffgffffgff ffffffghff fgfgefhhgg gffgfgfgff gffecffff",
  "fefedefeff efeeffeffe gddefeefde ffcefffaeb efffbfffdb egffgfhffe ffffgfgiih hcfedfihhg ggfgggffge fgfbbfgfg",
  "efeefeffef feffefefff feeffeffee ffdfffcbec effgcfffec effffgfgff fffffffhig hdffefhggf gfgffgfffe ffgcdffgf",
  "efeedefffe feefdgfdef fdceffefdd ffdefffadf dfffcfffcb gfgfgfigfg fffffgfiih gdfefdihhf ggfgfgffgg ggfcgdffe",
  "feffeffefe effefgfeff fedffffeee fgeffffbef effgdfffdc gffgfgfhgf ffffgffhhg gefffehggf gfffgffgff gffedeffg",
  "fefdeffeff eeffefgfdf fccefefcdd fffefffcfg cefffcffgd ffffgghhgg ffffgefhih hgffdfhhfg fgfffffgfg gfgegcgfg",
  "effeefffef fffefgffef ffddffffed fffffffdfh defffdffff ffffgfggfg fffffffggh gfffefgggf fffffffgff gfgfgdffg",
  "fefeffeeff effdefgedc gdefffdeef ffgdfffcdf dfffdffhcc fgfiggghgg gffefffhgg fgdfhghgfd gdhfdfgfgg gfghdifgf",
  "fefefeefff fefeffffed feefffefef ffffefffef effffffgdd ffffggfggf gfffeffggg ffefggffef fefgefffgf gfgfefiff",
  "ffeeefeffe fdfeffgcdf feeffefede ffecfffbfg cfffffffbc gfgifgffgg fdfgdgfgfh gfgcdhhgfe fefhggdfgf fdeiddfgf",
  "feffefefff feefffgdef ffeffefeef fffdfffcfg dfffgfffcd ffghfgfffg fefffgfgfg ffgdefhgff fffggfefgf fefgeeffg",
  "eefefffeff eefeggecfg geffeefeef fffdfffbfa defgeffgbb ffgigfhgfg fgdffdgfgf gffcggfdfh hggfhgffgf gcffhcgfg",
  "efefffefff efffgfedfg gfeffefffe fffefffcfb effgfffccd ffgffgfgfg ffefgffgff gffdffefgh gfgfgfffgf gdfffdgff",
  "fefeeffefe fedeffdcfe ffeddfeffe ffecfffbeb dfffbffeba ffhigfffgh fffdgffhgh hffdgefgdg fhgffgdfgf fgfhcaggf",
  "feeffeffef ffefffefdf fefedfefff fffdffccfc effgdfffcb fffggffffg fffefffggh gffefffgef fgffgfefff ffffdbfgf",
  "fefeefefef fefefggddc cdeffeffef eeffffffdf dfefcffeff gfffffgfff fdffegdfcc dfffgfgfff ffefffffgf fefbcffff",
  "ffefefffef fefeffgedd ddefffefef ffffffffef efeffffeff ffffgffgff gfffefefdd effffgfgff fffefffgff fffcdffgf",
  "ffcdeefffe eeefffdcfh feeffdfeff fgbcfffdfb efefbfffef gfgfgfdfdf ffffhgeiif gffdhihhfa fgfgfgfhfg hgfbbfggf",
  "ffedefffef efeffeedfg fefffeffef ffdefffefc ffefcffffe ffgfgfefef fffggffhgf ffeggghgfb ffgfffgggf gffcdgfff",
  "ffddeefdee ddcdffdcfh edeffefeef efbeffccfb ffeeafffcc gfhfhfdcdf cffghdfiih gfgehhhhha gffgffhgfg gfgccgfff",
  "ffefefefee fedeffeefg feffefefef ffefffddfc ffefcfffdd ffgfggeddf efffgefhhg fffegghhgc fgffffggff fgfdefggf",
  "ffddeffdee cdeeffedfi efeedfeeee gfdffffcfc eefeeffecc gfgfhidcef dfffhdfiii fffdihihhd fgfggfhghg gfeddfgfg",
  "ffefefefef dfefffefeh feefefefef ffefffffef ffefffffed ffffggedff effggefhih gffeghgghe fffgffggff ffgeefgff",
  "fedefeefde ddcefedcfh eedeeffede fgdefffdfg feffefffgg gfgfhhdcff effghegijj gfgdiihihe gffeggfhgf hgfbefgff",
  "ffefeffefe edefffedfg fefefffefe ffefffefgf ffffffffgg fffgggedfg fffggfgiii fgfeihgggf ffgfgffggf gffdfgfgf",
  "fefeddfdee cccefeecfh fefeddefdf ffeffffifg eefgdfffhi ffgfgidcfg dfffgdfiji gfgcihgihg gfdfghfgfh fgfgdfhgf",
  "fefeefefee edfefffefg fffefefefe fffefffgff ffffefffgh fffgfhefgf effggefhhi gggdhgghgf gfefggfgfg fgffefgff",
  "feedfefeef dddeffdcfi eefefeefde fbfdffdfac feffbffhhf gfffffdefe efggfefhii hgfcgiggfe dfgfgdfgff gcfhfgfgf",
  "ffefefefef eeefffeefh fefffefefe fdfeffefbd ffffcfffgf fffffgefff fffgfffggh gffdggfgff efgffefgff gdfgfgfff",
  "feefeedeef effeefdefh deefdefeee ffefefdfcf efdfefdfef ffgfiidefd fdfffiedgi jiffiiihhe dgffhhfgfg gdfhgfgff",
  "ffefefefef ffefffefeg efefefefef ffffffefdf ffefffefff ffffhhefef fefffhefgh iifgihhggf efffggfgff gefgfgfgf",
  "feddeefefe edefeffefi edefefdfdf fcfefefdfc feeefddfee ffffjjcefd ffefgidfji iidfjiiihf cgfghifgff cgfhgfhgf",
  "ffeeffefef eefefffefh efefffefef fdfffffefd ffefffefef ffffiidffe fffggigeih hifeiihhgf dfffggfgff dgfgfgggf",
  "fddeefeefe efdeffedfh ddeefeeede fgdeffefde efefcffgdd gfgfjidfed effffidfij ifgfjjiiig egfgighfgf dfgigfigf",
  "ffefefefef feefffefeh efefffefef ffefffffef ffefdfffde ffffiiefef fffffhfdii hgfgiihhhf ffgfghfgff effhgfhgf",
  "fcdefefdee cddeffdefi cdeefdefde feffefcgfd ffefdfffcd ffffiidedf feffgifdji jifefjiiig efdghifgff cfdgdfigg",
  "fedefefefe dedefeefeh defefefefe ffffefdfef ffefefffde ffgfhhefef fffefhfehi iifffhihhg fefggggfff dfeffghgf",
  "fcdeefefde ccdeffcdfj deeffdefde ffefefbcfd ffefdfefcb ffgfiicfdf ddfffjfdjj iifdjjiihf dfgfgifhgf dfgfefigf",
  "fdefefefef dedeffdefi efeffefefe fffefdffef ffefefffdd ffffhhefef efffgifeii hhfeiihhhg efgfghfgff efgfffhgf",
  "fdcefefdef ddeefecefj efefdeffee gffeffdegc ffgfedfecd fgffjifedf edffgifdji ifgdjiiiig dgdffhhfgg cfgfefhgf",
  "fefefefeff edefffdffi ffefefefff fffeffefgd ffffefffde ffgfhhfefe effffhfeii hhfeihhhhf egefgggffg efgfffggf",
  "fcdeffeeee deefffcdfj deefeefdee ffdeffdfec ffeeffffdc gfffiidfde dfffgjfdjj iidcjiiihf cgfghigfgf dffifgifg",
  "fdefefefef eeffffdefi efefefffef ffefffefed ffefffffed ffffhhefef efffghfeii hgdeihihgf dfgfggfgff efffgfhff",
  "fddeefdfef deefffcefj feeefdfefd ffefefffgf feeffgffdd gffgiidfde efffiidejj ihgdjjiihg egfgihfgfg cfgieggfg",
  "fdefefefef eeffffdffi fffefefefe fffefffgff ffefffffee fffghhefef fffghhefii hgfeiihhgf ffgfggfgff dfghfgfgf",
  "fcdeefeefe defeffdefj efdefefddf ffcefecffe ffcdfeffdc ffgffgdcdf dffgijfdkj iihfjiiihf dfdfghfgff dihfdfgff",
  "fdefefefef eefeffefei ffefefefef ffdeffdfff ffdefeffdd ffffggdeff effgihfeji ihgfiihhgf efefggfgff eggfefgff",
  "fddefeefef eeffefcdfj deeffeedee gfdefedfef deefffffdd fgfgiideef dffgfjfdkk jidgjiiihg cfcgghgfgf cfhfcfgfg",
  "fefefefeff efffefdefi efeffefefe ffefefefef eefffffeee fffghhefef efffgifeji iieghhhhgf dfdgggffgf dfgfdfgff",
  "fcdefeffee defeffddfj eefedeedfe feeffbcgaf cefedffecd fgfgjiedff edffgjfdjj ihifiiiihg cgdfgihgfg bfgfcfgff",
  "fdefefefef eefeffefei ffefeefefe ffeffcdfcf defeeffede ffffhhefef fefggifeii hgifhhhhgf dfefghfgff cfffdffgf",
  "fcdeeffefe dfefffdefj deefdeefde ffefffddcf dfefdffefd fgfgiidfee fdgfgjedjj igcdiihhgf dfffhifgff bgffdfhgf",
  "fdefefefef efefffefei efefefefef fffeffefdf efefefffee ffffhhefef fefgfifejj hgdeihhggf efffggffgf cfffefgff",
  "feefefffef eefdgfcdfj cefefdefde feffffcdfd efefcfffdc fgfghhdfde dfgfgjfdjk jiddhhhigg cgefghfgfg cfgfefhff",
  "fefefefefe effefgdefi defefefefe ffefffdefe ffefdfffed ffffgggfef efgfgifeij iieehhhgff dfefggfgff dfffefgff",
  "fefeeffeef edeffecdfj ceffeefede fbeffccdff ceefeffedb gfgfjjefdf dffgfjfdjj iifgihhihg cfdfifgfgf cfffefgfg",
  "ffefefefef efefffdefi defefefefe fdfffddeff defeffffec ffffiifffe effgfieeii hhfghggggf dfefhgfgff dfffffgff",
  "fefeeffeef eefdffddfj cfefeffede fccffcdcff defeeffedd gfgfiidfde effgfjgejj hgcfiihhhg bgffhgfgfg cgfgdgfgf",
  "ffefefefef efeeffeefi dfffefefef fddffdedff efefeffeee ffffhhefef fffgfiffii hgdfhhhggf cfffggfgff dffgefgff",
  "feefeffefe dfeeffedfk cffeefeffe ffdgfceefd efgffdfedb ffgghidfef dfgfgjfdjj hfbfiihifg cfdfgffgfg cffgffgfg",
  "fefefefeff efefffefei dffefefeff ffefefeffe effffefecc fffgggefff efffgifeii gfcfhhggff dfefgfffgf dffgffgff",
  "eeedeeeede eeeeedeedd ddeeffeeff eefhfeefff ffhfgffffe eghfhihhfh gfgfjccicc ihhffgfgfg gfgfhhgfgf gfdfgffgf",
  "eeeeeeeede eeeeeeeeee eeeefffeff eefgfeefff ffgfgffffe egffhhgghf gfgfjddhcd hggffgfgfg gfgfggfgff gfefgffgf",
  "feedefefee eefeefecfh fdeeffefef ffefffffdh feffdfefee fcfghigfdf gfgfffgfhf gfhdfgfhgf hhcfgfffgf ffgfhfgfg",
  "ffefefefef eefeffedfg fefeffefef ffefffffeg ffffefefef fdfggggfef ffgfffgfgf gfgefgfggf gheffgfffg ffgfgffgf",
  "feddefeeef deeeffhdfi efefeefede feefefcfdg ffeffeeffe gefgiidfdd effefifhih hhfffgifhi dfgfjhfgfi gcfgffgfg",
  "ffefefefef eeefffgefh ffefefefef ffefefdfef ffefffefff fefghhefde ffefghfgih gggfgfhfgh efgfihfgfh gdfgffgff",
  "fecdeeefde eefdffdcfi eedfeefeee ffgefedffe effeeffefe fffhiideed ffdfgidcih hfgfihgfgf cfgfjhfghf gdfhfgfgf",
  "fefefefefe efefffdefh efefefefef fffefeffef ffffefffef fffghhefef ffefghfdhh ggfghhgfgf efgfighfgh gefgffgff",
  "fddeeedfee ddefefdcfi deefefeedf feffefdfhf efeddfffde ffffjjdefe cfdfgjfeii ggffiihfhg efgfjigffi fcfhgfgff",
  "fefefefefe edefffdefh effefefefe ffffefeffg ffefefffef ffffiiefef dffgfifeih gfffhhgfgf fgffihfgfh fdfgffgff",
  "fcdefeddee cdefffdcfh deefefdefe fefeffffef ffefdffeef fgfgjjeddf dfdfgjbfii ghgfihhhgf dfgfiifgfi hgffdgfgf",
  "fdefefefef deffffefeg efefefefef ffffffffff ffffefffef ffffhiefef efefgicfhh ggffhgggff efffhhfgfh ggffefgff",
  "fddeefefef edefefefeh feedefeefe gefffefgef effffffefe fefhhgfedf cfffghdfjh jhgfgfhgfh efffgffgfg fgfjgifgf",
  "fefefefefe eeefffffeg ffefefefef ffffffefff ffffffffff ffffggfeff dfffghefih igffgfgfgg fffffffgff fgfigiffg",
  "fccdfeefef decfdfefei feeffeefdd feffefefcg ffefefffgf fefgifddef cffefidfij jjdfiihigh gffggfggff gfghgfgff",
  "fdefefefef edefefffeh fefffefeee fffffffdff ffffffffff ffffhgeeff efffgiefii iiefhhhggg fffggfgfff fgfggfgff",
  "fcddeefdef ddcefedefh eedffeefdd fefdfefidf feffffffef feffhgdcef effefjfdij jidfhihifh feffgfgfgg gfjhfgfgf",
  "fdeefefefe edefffefeg eeffefefee ffffffghef ffffffffff ffffggeeff fffefieeii iiefhhhhfg ffffgfgfgf fgihfgfgf",
  "ffefeeefee edeffdfefh efeefdefdf fcfdffeifh efgfdffdfg fgfgijefff effgfjfdii ggefgfhgig fegfgfhgff fgihfefgf",
  "ffefefefef eefffefefg fefefefefe fefeffefgf ffffeffefg ffffiiefff fffgfiffih gffggfgghf ffgfgfggff fghgffgff",
  "fefdeffefe ddeffcffhh feffdfeefe fdefffcfhf feffifefef ffgfjjfgdf fffgjhfdih hhgfgfhgfg efffgfgfgf fgfigfgff",
  "ffefefefef defffeffgg ffffefefef fefffeefgf ffffhfffff ffffiiffef fffgihfehg ggffgfggff ffffgffgff fffhgfgff",
  "fefeffeefd dfedfcffff efdefgffeg fhfdffbhaf eeffcfffdg ffgffhgfff dddfgifdgh gfgfffgiff hgfffgfgfi ffcgcfggh",
  "eeddeeddde ddcdcccded ddcddeddde ffeddebddb deeecdedce ffeffgffff deefgggfgg gfgfffgiff jfffgfgfij ffdfdfghi"
];
const sampleGroups = [["Control", 50, "#ff7096"], ["AMI", 49, "#5effc2"]];
const zTicks = [-4, -2, 0, 2, 4];
// length of the unreadable gene labels on the right, and of the tree leaves on the left
const geneLabelLen = [14,16,28,15,13,18,14,17,22,16,13,15,30,14,16,13,18,15,26,14,13,17,15,28,14,16,20,13,15,14,17,24,15,13,16,14,18,15,13,30,16,14,13,15,19,14,16,13,21,15,14,13,17,15,13,16,14,15,26,14,13,16,15,14,18,13,15,14,16,22,13,15,14,17,13,15,16,14,13,24,15,14,13,16,15,14,18,13,15,14,16,13,28,15,14,17,13,16,14,15,20,13,14,15,26,14,16,13,15,14];
const leafLen = [42,38,44,36,40,34,43,37,41,35,44,39,36,42,34,40,37,43,35,41,38,45,36,40,34,42,38,44,35,41,37,43,39,34,42,36,40,45,35,38,41,34,44,37,40,36,43,35,39,42,34,41,37,44,36,40,35,43,38,34,42,36,41,37,44,35,40,34,43,38,36,42,35,41,37,44,34,40,36,43,38,35,41,34,42,37,44,36,39,35,43,40,34,38,42,36,44,35,41,37,34,43,39,36,42,35,40,44,37,38];
// dendrogram branches: x1, row1, x2, row2
const treeSegments = [
  [0,12,0,107],[0,12,18,12],[0,107,20,107],[18,1,18,39],[18,1,24,1],[18,39,24,39],[24,1,24,20],[24,24,24,38],[24,10,30,10],[24,30,30,30],
  [20,42,20,215],[20,42,26,42],[20,215,26,215],[26,42,26,85],[26,90,26,172],[26,175,26,216],[20,66,26,66],[20,130,26,130],[20,195,26,195],
  [26,55,31,55],[26,75,31,75],[26,110,31,110],[26,150,31,150],[26,185,31,185],[26,205,31,205],[31,48,31,62],[31,68,31,82],[31,100,31,122],[31,140,31,165],[31,178,31,192],[31,198,31,212]
];
const venns = [
  { names: ["GSE31568", "GSE148153"], texts: ["90 (32%)", "4 (1.4%)", "187 (66.5%)"], at: [-0.028, 0.49, 1.09] },
  { names: ["GSE31568", "GSE148153"], texts: ["101 (13.2%)", "14 (18%)", "652 (85%)"], at: [-0.119, 0.497, 1.08] }
];

const serif = "Liberation Serif";
const pairs = flat => {
  const out = [];
  for (let i = 0; i < flat.length; i += 2) out.push([flat[i], flat[i + 1]]);
  return out;
};
const fromRows = rows => {
  const out = [];
  rows.forEach(r => r.slice(1).forEach(x => out.push([x, r[0]])));
  return out;
};
const minus = v => String(v).replace("-", "\u2212");

let grid = [], xAxis = [], yAxis = [], series = [];
function addGrid(rect, x, y) {
  grid.push(Object.assign({ containLabel: false }, rect));
  const i = grid.length - 1;
  xAxis.push(Object.assign({ gridIndex: i }, x));
  yAxis.push(Object.assign({ gridIndex: i }, y));
  return i;
}
const hidden = { show: false };
const tickText = { fontFamily: serif, fontSize: 64, color: "#000" };
const axisRich = {
  a: { fontFamily: serif, fontSize: 67, color: "#000", lineHeight: 90 },
  i: { fontFamily: serif, fontSize: 67, color: "#000", fontStyle: "italic", lineHeight: 90 },
  s: { fontFamily: serif, fontSize: 43, color: "#000", lineHeight: 90, verticalAlign: "bottom", padding: [26, 0, 0, 0] }
};

function volcano(rect, xr, yr, xTicks, yTicks, lineTop, green, red, black) {
  const axisBase = {
    type: "value",
    splitLine: hidden,
    axisLine: { show: true, onZero: false, lineStyle: { color: "#111", width: 4 } },
    axisTick: { show: true, inside: true, length: 17, lineStyle: { color: "#111", width: 4 } },
    nameLocation: "middle",
    nameTextStyle: { rich: axisRich }
  };
  const g = addGrid(
    Object.assign({ show: true, borderColor: "#111", borderWidth: 4, backgroundColor: "#fff" }, rect),
    Object.assign({}, axisBase, {
      min: xr[0], max: xr[1],
      name: "{a|log}{s|2}{a|(fold change)}", nameGap: 90,
      axisTick: Object.assign({}, axisBase.axisTick, { customValues: xTicks }),
      axisLabel: { customValues: xTicks, formatter: minus, margin: 26, ...tickText }
    }),
    Object.assign({}, axisBase, {
      min: 0, max: yr,
      name: "{a|\u2212log}{s|10}{a|(adjusted }{i|P}{a|-value)}", nameGap: 105,
      axisTick: Object.assign({}, axisBase.axisTick, { customValues: yTicks }),
      axisLabel: { customValues: yTicks, formatter: minus, margin: 26, ...tickText }
    })
  );
  const dots = (data, color) => ({
    type: "scatter", xAxisIndex: g, yAxisIndex: g, data, symbolSize: 21, silent: true,
    itemStyle: { color, opacity: 1 }
  });
  series.push(dots(black, "#0a0a0a"), dots(green, "#62ff00"), dots(red, "#ff1010"));
  series.push({
    type: "line", xAxisIndex: g, yAxisIndex: g, data: [[0, lineTop], [0, 0]], symbol: "none", silent: true,
    lineStyle: { color: "#0a0a0a", width: 10, type: [40, 46.6], cap: "butt" }, z: 5
  });
}

volcano({ left: 242, top: 54, width: 1299, height: 1094 }, [-2.852, 2.85], 11.5, [-2, -1, 0, 1, 2], [0, 2, 4, 6, 8, 10], 11.28, pairs(aGreen), pairs(aRed), pairs(aBlack));
volcano({ left: 1927, top: 54, width: 1299, height: 1094 }, [-10.7, 10.69], 13.96, [-10, -5, 0, 5, 10], [0, 2, 4, 6, 8, 10, 12], 13.69, pairs(bGreen), pairs(bRed), pairs(bBlack).concat(fromRows(bBlackRows)));
volcano({ left: 242, top: 1529, width: 1299, height: 1094 }, [-3.27, 3.285], 16.67, [-3, -2, -1, 0, 1, 2, 3], [0, 5, 10, 15], 16.36, pairs(cGreen), pairs(cRed), pairs(cBlack).concat(fromRows(cBlackRows)));

// panel D
const heatClean = heatRows.map(r => r.replace(/ /g, ""));
const nSamples = sampleGroups.reduce((s, g) => s + g[1], 0);
const sampleNames = [];
for (let i = 1; i <= nSamples; i++) sampleNames.push("Sample_" + String(i).padStart(4, "0"));
const heatData = [];
heatClean.forEach((row, y) => row.split("").forEach((c, x) => heatData.push([x, y, zCodes[c]])));

const hg = addGrid(
  { left: 1970, top: 1523, width: 1193, height: 1021, show: true, backgroundColor: "#000", borderWidth: 0 },
  { type: "category", data: sampleNames, axisLine: hidden, axisTick: hidden, splitLine: hidden,
    axisLabel: { interval: 0, rotate: 90, margin: 4, fontFamily: "Liberation Sans", fontSize: 13, color: "#7f8c91" } },
  { type: "category", inverse: true, data: heatClean.map((r, i) => i), show: false }
);
const heatIndex = series.length;
series.push({ type: "heatmap", xAxisIndex: hg, yAxisIndex: hg, data: heatData, silent: true, progressive: 0 });

const ag = addGrid(
  { left: 1970, top: 1501, width: 1193, height: 19 },
  { type: "value", min: 0, max: nSamples, show: false },
  { type: "category", data: ["group"], show: false }
);
sampleGroups.forEach(g => series.push({
  type: "bar", name: g[0], stack: "groups", xAxisIndex: ag, yAxisIndex: ag, data: [g[1]], barWidth: "100%", silent: true,
  itemStyle: { color: g[2] },
  label: { show: true, position: "top", distance: 14, formatter: g[0], fontFamily: serif, fontSize: 66, color: "#000" }
}));

const lg = addGrid(
  { left: 3168, top: 1523, width: 40, height: 1021 },
  { type: "value", min: 0, max: 40, show: false },
  { type: "category", inverse: true, data: geneLabelLen.map((v, i) => i), show: false }
);
series.push({ type: "bar", xAxisIndex: lg, yAxisIndex: lg, data: geneLabelLen, barCategoryGap: "10%", silent: true, itemStyle: { color: "#a5b0b5" } });

const dg = addGrid(
  { left: 1900, top: 1523, width: 70, height: 1021 },
  { type: "value", inverse: true, min: 0, max: 70, show: false },
  { type: "category", inverse: true, data: leafLen.map((v, i) => i), show: false }
);
series.push({ type: "bar", xAxisIndex: dg, yAxisIndex: dg, data: leafLen, barCategoryGap: "20%", silent: true, itemStyle: { color: "#9aa7ac" } });

const tg = addGrid(
  { left: 1900, top: 1523, width: 70, height: 1021 },
  { type: "value", min: 0, max: 70, show: false },
  { type: "value", inverse: true, min: 0, max: 220, show: false }
);
series.push({
  type: "custom", xAxisIndex: tg, yAxisIndex: tg, data: treeSegments, silent: true, clip: false,
  encode: { x: [0, 2], y: [1, 3] },
  renderItem(params, api) {
    const a = api.coord([api.value(0), api.value(1)]);
    const b = api.coord([api.value(2), api.value(3)]);
    return { type: "line", shape: { x1: a[0], y1: a[1], x2: b[0], y2: b[1] }, style: { stroke: "#87959a", lineWidth: 2.5 } };
  }
});

// colour bar ticks share the scale of the visual map
const zg = addGrid(
  { left: 3213, top: 1501, width: 25, height: 354 },
  { type: "value", min: 0, max: 1, show: false },
  { type: "value", min: -5.3, max: 5, position: "right", axisLine: hidden, axisTick: hidden, splitLine: hidden,
    axisLabel: { customValues: zTicks, formatter: minus, margin: 23, fontFamily: serif, fontSize: 60, color: "#000", align: "left" } }
);
series.push({ type: "scatter", xAxisIndex: zg, yAxisIndex: zg, data: [], silent: true });

// panels E and F: the two sets sit at x = 0 and x = 1 of their own grid
function venn(v, rect, r, texts) {
  const g = addGrid(rect, { type: "value", min: 0, max: 1, show: false }, { type: "value", min: 0, max: 1, show: false });
  const circle = (x, style) => ({
    type: "scatter", xAxisIndex: g, yAxisIndex: g, data: [[x, 0.5]], symbolSize: 2 * r, clip: false, silent: true, itemStyle: style
  });
  series.push(circle(0, { color: "#6078ff", opacity: 1 }));
  series.push(circle(1, { color: "rgba(222,255,0,0.6)", opacity: 1 }));
  series.push(circle(0, { color: "rgba(0,0,0,0)", borderColor: "#111", borderWidth: 4, opacity: 1 }));
  series.push(circle(1, { color: "rgba(0,0,0,0)", borderColor: "#111", borderWidth: 4, opacity: 1 }));
  series.push({
    type: "scatter", xAxisIndex: g, yAxisIndex: g, symbolSize: 1, clip: false, silent: true, z: 6,
    itemStyle: { color: "rgba(0,0,0,0)" },
    data: v.texts.map((t, i) => ({ value: [v.at[i], texts], name: t })),
    label: { show: true, position: "inside", formatter: "{b}", fontFamily: serif, fontSize: 57, color: "#000" }
  });
}
venn(venns[0], { left: 616, top: 3362, width: 507.5, height: 100 }, 388.5, 0.63);
venn(venns[1], { left: 2227, top: 3387, width: 521, height: 100 }, 400.5, 0.89);

const text = (t, x, y, extra) => Object.assign({
  type: "text", x, y, silent: true, z: 120,
  style: Object.assign({ text: t, fontFamily: serif, fontSize: 66, fill: "#000", textAlign: "center", textVerticalAlign: "middle" }, extra && extra.style)
}, extra && extra.rotation ? { rotation: extra.rotation } : {});
// dots sitting on the top edge are cut by the frame in the reference
const topMask = (x, y) => ({ type: "rect", silent: true, z: 100, shape: { x, y, width: 1299, height: 16 }, style: { fill: "#fff" } });

const graphicTexts = [
  topMask(242, 36), topMask(1927, 36), topMask(242, 1511),
  text("A", 24, 38), text("B", 1706, 36), text("C", 22, 1510), text("D", 1768, 1511), text("E", 22, 2932), text("F", 1769, 2926),
  text(venns[0].names[0], 546, 2927, { style: { fill: "#2e55f5" } }),
  text(venns[0].names[1], 1181, 2927, { style: { fill: "#5f6b10" } }),
  text(venns[1].names[0], 2140, 2927, { style: { fill: "#2e55f5" } }),
  text(venns[1].names[1], 2774, 2927, { style: { fill: "#5f6b10" } }),
  text("Gene symbol", 3236, 2102, { rotation: Math.PI / 2 }),
  text("{i|Z}{a|-score}", 3373, 1678, { rotation: Math.PI / 2, style: { rich: {
    i: { fontFamily: serif, fontSize: 66, fontStyle: "italic" },
    a: { fontFamily: serif, fontSize: 66 } } } })
];

const chart = echarts.init(document.getElementById("main"), null, { renderer: "canvas" });
chart.setOption({
  animation: false,
  backgroundColor: "#fff",
  grid, xAxis, yAxis, series,
  visualMap: {
    type: "continuous", seriesIndex: heatIndex, dimension: 2, min: -5.3, max: 5,
    left: 3213, top: 1501, itemWidth: 25, itemHeight: 354, padding: 0, text: ["", ""], textGap: 0,
    calculable: false, realtime: false, hoverLink: false,
    inRange: { color: ["#55ff0a", "#55ff0a", "#4fee09", "#369f06", "#1d5703", "#040c00", "#2e0000", "#610000", "#960000", "#ca0000", "#ff0808"] }
  },
  graphic: { elements: graphicTexts }
});
</script>
</body>
</html>
